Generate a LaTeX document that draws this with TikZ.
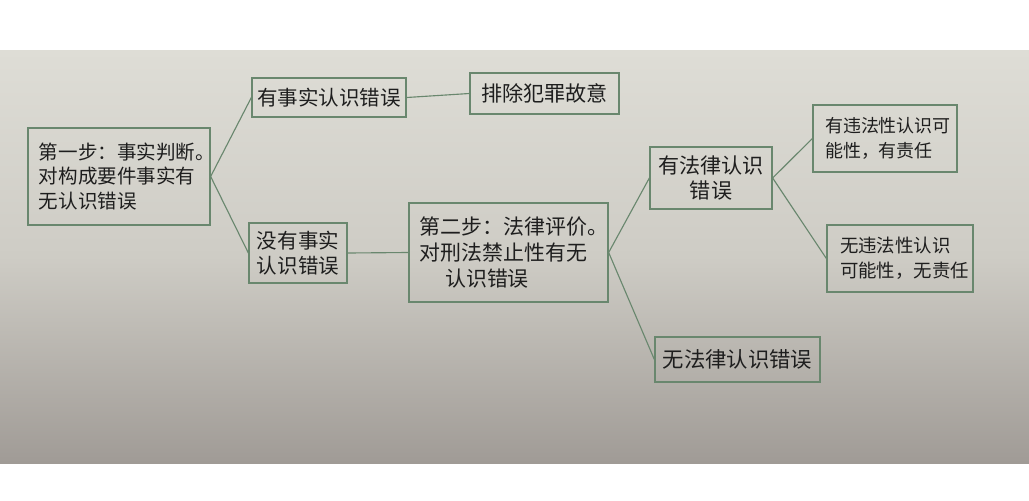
\documentclass[tikz,border=0pt]{standalone}
\usepackage{fontspec}
\newfontfamily\cjk{Noto Sans CJK SC}
\definecolor{pagetop}{RGB}{222,221,214}
\definecolor{pagemid}{RGB}{206,204,197}
\definecolor{pagebot}{RGB}{160,155,150}
\definecolor{boxline}{RGB}{105,135,110}
\definecolor{ink}{RGB}{30,30,30}
\tikzset{
  box/.style={draw=boxline, line width=0.9pt, inner sep=0pt, text=ink,
    font=\cjk\fontsize{14.6}{18}\selectfont},
  conn/.style={draw=boxline, line width=0.8pt}
}
\begin{document}
\begin{tikzpicture}[x=0.025cm,y=-0.025cm]
\useasboundingbox (0,0) rectangle (1029,500);
\fill[white] (0,0) rectangle (1029,500);
\shade[top color=pagetop, bottom color=pagebot, middle color=pagemid] (0,50) rectangle (1029,463);

\node[box, minimum width=4.55cm, minimum height=2.425cm, text width=4.0cm, align=left,
  font=\cjk\fontsize{13.9}{17.3}\selectfont] (s1) at (119,176.5)
  {第一步：事实判断。\\对构成要件事实有\\无认识错误};
\node[box, minimum width=3.85cm, minimum height=0.975cm, align=center] (fe) at (329,97.5) {有事实认识错误};
\node[box, minimum width=3.725cm, minimum height=1.025cm, align=center,
  font=\cjk\fontsize{15}{18}\selectfont] (ex) at (544.5,93.5) {排除犯罪故意};
\node[box, minimum width=2.45cm, minimum height=1.5cm, align=center] (nfe) at (298,253) {没有事实\\认识错误};
\node[box, minimum width=4.975cm, minimum height=2.475cm, text width=4.425cm, align=left,
  font=\cjk\fontsize{14.9}{18.8}\selectfont] (s2) at (508.5,252.5)
  {第二步：法律评价。\\对刑法禁止性有无\\\hspace*{1.2em}认识错误};
\node[box, minimum width=3.05cm, minimum height=1.55cm, align=center,
  font=\cjk\fontsize{15}{18}\selectfont] (le) at (711,178) {有法律认识\\错误};
\node[box, minimum width=3.6cm, minimum height=1.675cm, text width=3.0cm, align=left,
  font=\cjk\fontsize{12.8}{17.5}\selectfont] (r1) at (885,138.5) {有违法性认识可\\能性，有责任};
\node[box, minimum width=3.65cm, minimum height=1.675cm, text width=3.0cm, align=left,
  font=\cjk\fontsize{13.1}{18}\selectfont] (r2) at (900,258.5) {无违法性认识\\可能性，无责任};
\node[box, minimum width=4.125cm, minimum height=1.125cm, align=center,
  font=\cjk\fontsize{15.2}{18}\selectfont] (nle) at (737.5,359.5) {无法律认识错误};

\draw[conn] (s1.east) -- (fe.west);
\draw[conn] (s1.east) -- (nfe.west);
\draw[conn] (fe.east) -- (ex.west);
\draw[conn] (nfe.east) -- (s2.west);
\draw[conn] (s2.east) -- (le.west);
\draw[conn] (s2.east) -- (nle.west);
\draw[conn] (le.east) -- (r1.west);
\draw[conn] (le.east) -- (r2.west);
\end{tikzpicture}
\end{document}
